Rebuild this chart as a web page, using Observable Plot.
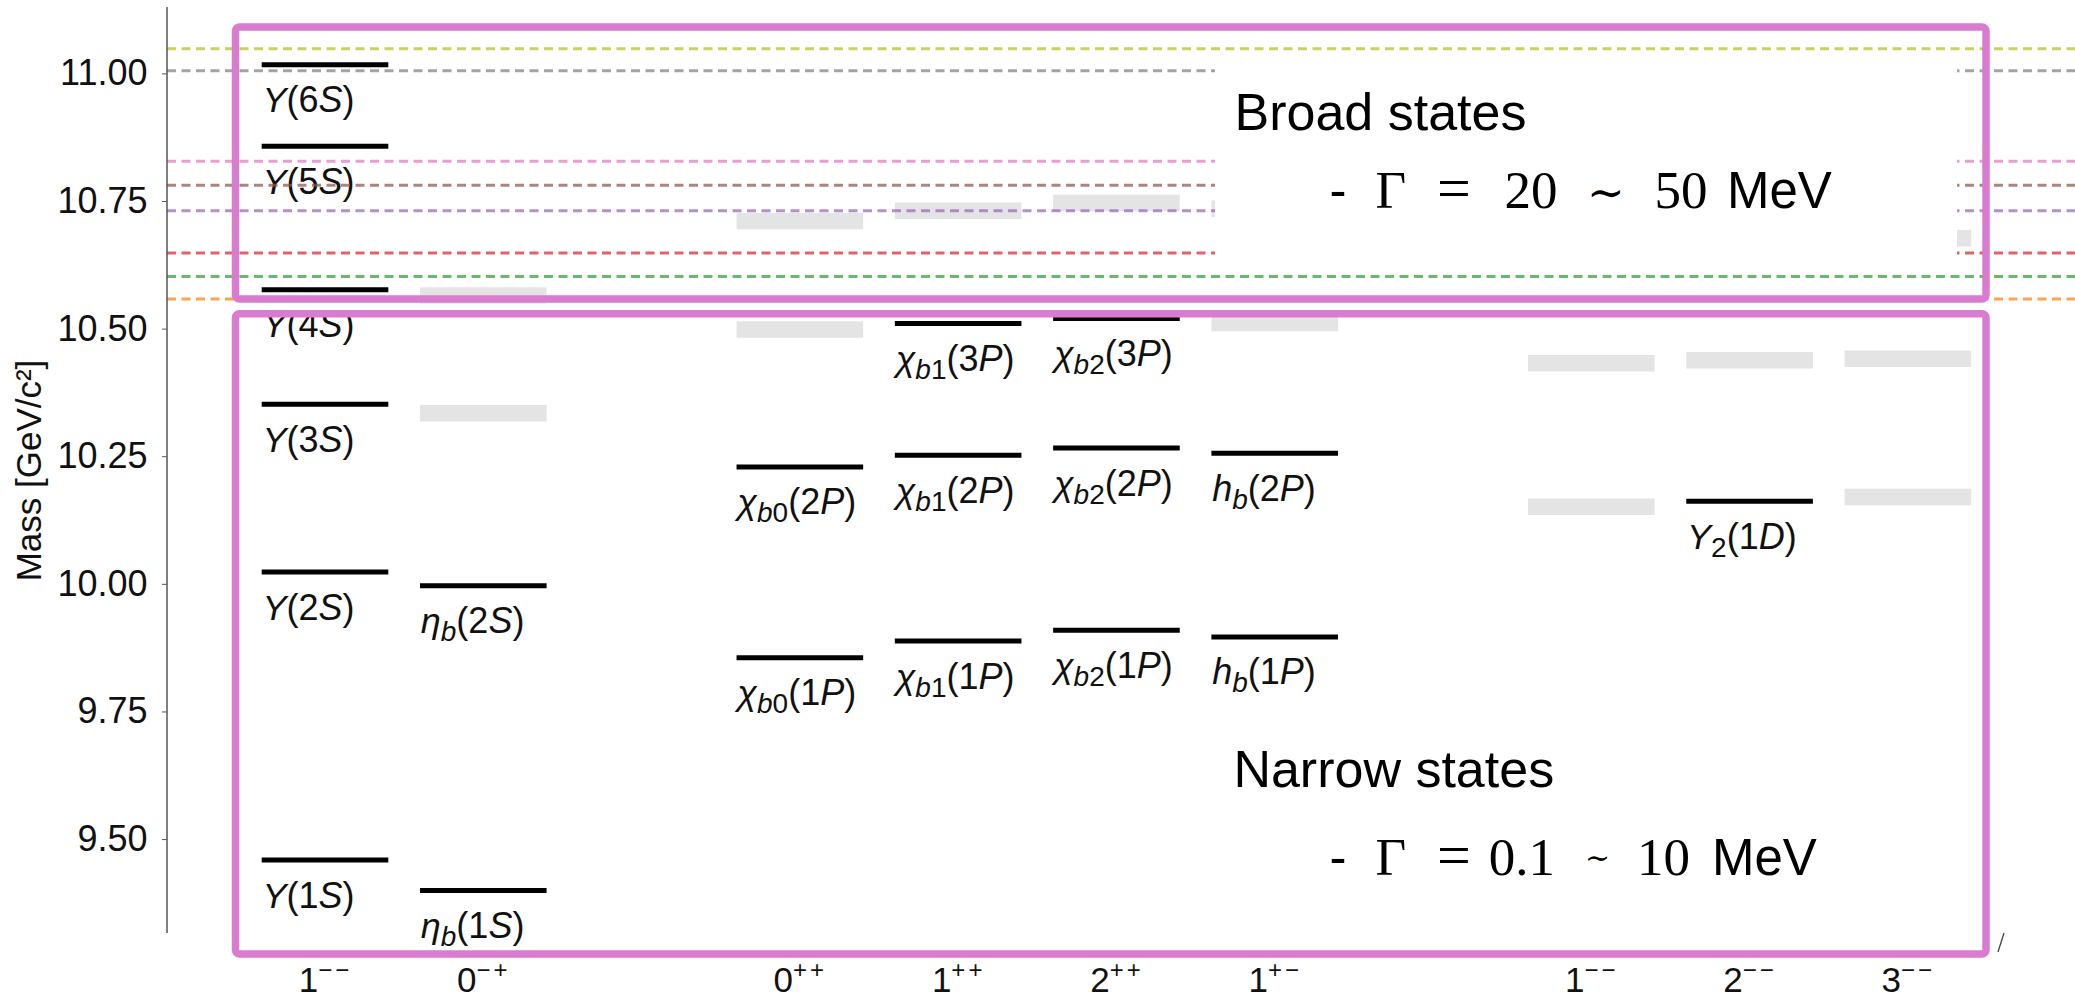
<!DOCTYPE html>
<html>
<head>
<meta charset="utf-8">
<script src="https://cdn.jsdelivr.net/npm/d3@7"></script>
<script src="https://cdn.jsdelivr.net/npm/@observablehq/plot@0.6"></script>
<style>
  html, body { margin: 0; padding: 0; background: #fff; overflow: hidden; }
  #wrap { position: relative; width: 2075px; height: 1001px; }
  #wrap > svg { position: absolute; left: 0; top: 0; }
</style>
</head>
<body>
<div id="wrap"></div>
<script>
// ---------- data ----------
// x columns (J^PC), including two empty spacer columns
const columnKeys   = ["S:1--", "S:0-+", "gap1", "P:0++", "P:1++", "P:2++", "P:1+-", "gap2", "D:1--", "D:2--", "D:3--"];
const columnLabels = ["1−−",   "0−+",   "",     "0++",   "1++",   "2++",   "1+−",   "",     "1−−",   "2−−",   "3−−"];

// narrow (observed) states: black levels
const narrowNames   = ["Υ(1S)", "Υ(2S)", "Υ(3S)", "Υ(4S)", "Υ(5S)", "Υ(6S)",
                       "η_b(1S)", "η_b(2S)",
                       "χ_b0(1P)", "χ_b0(2P)",
                       "χ_b1(1P)", "χ_b1(2P)", "χ_b1(3P)",
                       "χ_b2(1P)", "χ_b2(2P)", "χ_b2(3P)",
                       "h_b(1P)", "h_b(2P)",
                       "Υ_2(1D)"];
const narrowColumns = ["S:1--", "S:1--", "S:1--", "S:1--", "S:1--", "S:1--",
                       "S:0-+", "S:0-+",
                       "P:0++", "P:0++",
                       "P:1++", "P:1++", "P:1++",
                       "P:2++", "P:2++", "P:2++",
                       "P:1+-", "P:1+-",
                       "D:2--"];
const narrowMasses  = [9.460, 10.024, 10.353, 10.577, 10.858, 11.018,
                       9.400, 9.997,
                       9.856, 10.230,
                       9.889, 10.253, 10.511,
                       9.910, 10.267, 10.521,
                       9.897, 10.257,
                       10.163];

// broad / predicted states: grey bands
const broadColumns = ["S:0-+", "S:0-+", "P:0++", "P:0++", "P:1++", "P:2++", "P:1+-", "P:1+-",
                      "D:1--", "D:1--", "D:2--", "D:3--", "D:3--", "D:3--"];
const broadMasses  = [10.335, 10.566, 10.499, 10.712, 10.732, 10.747, 10.512, 10.736,
                      10.152, 10.433, 10.439, 10.171, 10.442, 10.678];

// open-bottom thresholds (dashed lines)
const thresholdNames  = ["BB̄", "BB̄*", "B*B̄*", "BsB̄s", "BsB̄s*", "Bs*B̄s*", "BB̄1", "B*B̄1"];
const thresholdMasses = [10.559, 10.603, 10.649, 10.732, 10.782, 10.829, 11.006, 11.049];

const yTicks = [9.50, 9.75, 10.00, 10.25, 10.50, 10.75, 11.00];
const yLabel = "Mass [GeV/c²]";

// ---------- tables ----------
const narrow = narrowNames.map((name, i) => ({name, col: narrowColumns[i], mass: narrowMasses[i]}));
const broad = broadMasses.map((mass, i) => ({col: broadColumns[i], mass}));
const thresholds = thresholdNames.map((name, i) => ({name, mass: thresholdMasses[i]}));
const labelOf = Object.fromEntries(columnKeys.map((k, i) => [k, columnLabels[i]]));
const realKeys = columnKeys.filter(k => labelOf[k] !== "");

const W = 2075, H = 1001;
const sans = "'Liberation Sans', Arial, Helvetica, sans-serif";
const serif = "'Liberation Serif', 'Times New Roman', serif";

const chart = Plot.plot({
  width: W, height: H,
  marginLeft: 167, marginRight: 0, marginTop: 7, marginBottom: 68,
  style: {fontFamily: sans, fontSize: "36px", background: "transparent", color: "#111"},
  x: {type: "band", domain: columnKeys, paddingInner: 0.2, paddingOuter: 0.627, align: 0.477, round: false},
  y: {domain: [9.316, 11.130]},
  color: {type: "ordinal", domain: thresholdNames, range: d3.schemeCategory10.slice(1, 9)},
  marks: [
    Plot.tickY(broad, {x: "col", y: "mass", stroke: "#e4e4e4", strokeWidth: 16.5}),
    Plot.tickY(narrow, {x: "col", y: "mass", stroke: "#000", strokeWidth: 5}),
    Plot.text(narrow, {x: "col", y: "mass", text: "name", textAnchor: "start", lineAnchor: "top",
                       dx: -63, dy: 22, fontSize: 36, fill: "#111"}),
    Plot.ruleY(thresholds, {y: "mass", stroke: "name", strokeOpacity: 0.72, strokeWidth: 3, strokeDasharray: "9,5.5"}),
    Plot.axisY({ticks: yTicks, tickFormat: d3.format(".2f"), tickSize: 5, tickPadding: 15,
                fontSize: 36, stroke: "#555", fill: "#111", label: null}),
    Plot.axisX({ticks: realKeys, tickFormat: k => labelOf[k], tickSize: 0, tickPadding: 34,
                fontSize: 35, fill: "#111", label: null}),
    Plot.text([yLabel], {frameAnchor: "left", text: d => d, rotate: -90, dx: -138, lineAnchor: "middle",
                         textAnchor: "middle", fontSize: 35, fill: "#111"})
  ]
});

document.getElementById("wrap").appendChild(chart);

// ---------- post-processing: rich text (italics, sub/superscripts), axis line ----------
const svgns = "http://www.w3.org/2000/svg";
function tspan(parent, str, attrs = {}) {
  const t = document.createElementNS(svgns, "tspan");
  t.textContent = str;
  for (const [k, v] of Object.entries(attrs)) t.setAttribute(k, v);
  parent.appendChild(t);
}
const labelRe = /^([^_(]+)(?:_([^(]+))?\((\d)([A-Za-z])\)$/;
const tickSet = new Set(realKeys.map(k => labelOf[k]));
d3.select(chart).selectAll("text").each(function() {
  const s = this.textContent;
  if (tickSet.has(s)) {
    this.textContent = "";
    tspan(this, s[0]);
    tspan(this, s.slice(1), {"font-size": 24, dy: -14, "letter-spacing": 3});
    return;
  }
  const m = s.match(labelRe);
  if (m && narrowNames.includes(s)) {
    this.textContent = "";
    tspan(this, m[1], {"font-style": "italic"});
    if (m[2]) {
      [...m[2]].forEach((c, i) => tspan(this, c, {"font-size": 28, "font-style": /[a-z]/i.test(c) ? "italic" : "normal", ...(i === 0 ? {dy: 8} : {})}));
      tspan(this, "(" + m[3], {dy: -8});
    } else {
      tspan(this, "(" + m[3]);
    }
    tspan(this, m[4], {"font-style": "italic"});
    tspan(this, ")");
  }
});
const xs = chart.scale("x"), ys = chart.scale("y");
d3.select(chart).append("line")
  .attr("x1", xs.range[0]).attr("x2", xs.range[0])
  .attr("y1", ys.range[0]).attr("y2", ys.range[1])
  .attr("stroke", "#555").attr("stroke-width", 1.5);

// ---------- annotation overlay (boxes and text) ----------
const ov = d3.select("#wrap").append("svg").attr("width", W).attr("height", H);
ov.append("rect").attr("x", 1215).attr("y", 53).attr("width", 742).attr("height", 219).attr("fill", "#fff");
const pink = "#d97ccf";
ov.append("rect").attr("x", 235.5).attr("y", 27).attr("width", 1750.5).attr("height", 272)
  .attr("rx", 4).attr("fill", "none").attr("stroke", pink).attr("stroke-width", 7.5);
ov.append("rect").attr("x", 235.5).attr("y", 313.7).attr("width", 1750.5).attr("height", 640.3)
  .attr("rx", 4).attr("fill", "none").attr("stroke", pink).attr("stroke-width", 7.5);
ov.append("line").attr("x1", 1998).attr("y1", 952).attr("x2", 2004).attr("y2", 933)
  .attr("stroke", "#444").attr("stroke-width", 1.3);

function put(x, y, str, family, size, extra = {}) {
  const t = ov.append("text").attr("x", x).attr("y", y).attr("font-family", family)
    .attr("font-size", size).attr("fill", "#000").text(str);
  for (const [k, v] of Object.entries(extra)) t.attr(k, v);
  return t;
}
// Broad states
put(1234.5, 130, "Broad states", sans, 52);
put(1329.5, 208.3, "-", sans, 51);
put(1375.5, 208.3, "Γ", serif, 53);
put(1437, 208.3, "=", serif, 60);
put(1504.5, 208.3, "20", serif, 53);
put(1587, 208.3, "∼", "'DejaVu Serif', serif", 45);
put(1654.5, 208.3, "50", serif, 53);
put(1727, 208.3, "MeV", sans, 51);
// Narrow states
put(1233.4, 786.7, "Narrow states", sans, 52);
put(1329.5, 875, "-", sans, 51);
put(1375.5, 875, "Γ", serif, 53);
put(1437, 875, "=", serif, 60);
put(1488.7, 875, "0.1", serif, 53);
put(1585, 868, "∼", "'DejaVu Serif', serif", 30);
put(1637, 875, "10", serif, 53);
put(1712, 875, "MeV", sans, 51);
</script>
</body>
</html>
